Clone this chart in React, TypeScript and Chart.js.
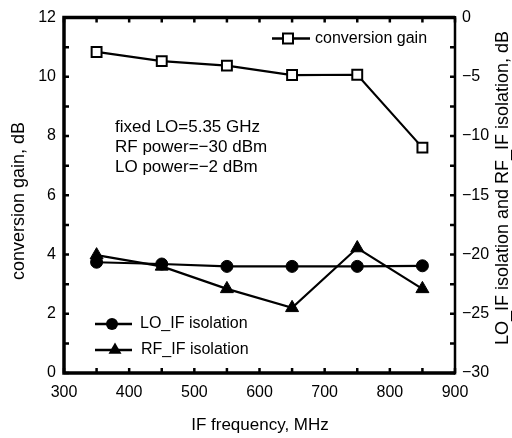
import React, { useEffect, useRef } from "react";
import { Chart, registerables } from "chart.js";

Chart.register(...registerables);

// ---- data ----
const frequencies = [350, 450, 550, 650, 750, 850];
const conversionGain = [10.84, 10.53, 10.38, 10.06, 10.07, 7.61];
const loIfIsolation = [-20.65, -20.8, -21.0, -21.0, -21.0, -20.95];
const rfIfIsolation = [-20.05, -21.0, -22.9, -24.5, -19.45, -22.9];

const xMinorTicks = [300, 350, 400, 450, 500, 550, 600, 650, 700, 750, 800, 850, 900];
const leftMinorTicks = [0, 1, 2, 3, 4, 5, 6, 7, 8, 9, 10, 11, 12];
const rightMinorTicks = [0, -2.5, -5, -7.5, -10, -12.5, -15, -17.5, -20, -22.5, -25, -27.5, -30];

const xTitle = "IF frequency, MHz";
const leftTitle = "conversion gain, dB";
const rightTitle = "LO_IF isolation and RF_IF isolation, dB";
const noteLines = ["fixed LO=5.35 GHz", "RF power=\u221230 dBm", "LO power=\u22122 dBm"];
const legendLabels = ["conversion gain", "LO_IF isolation", "RF_IF isolation"];

const FONT = '"Liberation Sans", Arial, Helvetica, sans-serif';

function drawMarker(ctx: CanvasRenderingContext2D, kind: string, x: number, y: number) {
  ctx.save();
  ctx.lineWidth = 2;
  ctx.strokeStyle = "#000";
  if (kind === "rect") {
    const s = 5;
    ctx.fillStyle = "#fff";
    ctx.beginPath();
    ctx.rect(x - s, y - s, 2 * s, 2 * s);
    ctx.fill();
    ctx.stroke();
  } else if (kind === "circle") {
    ctx.fillStyle = "#000";
    ctx.beginPath();
    ctx.arc(x, y, 6, 0, Math.PI * 2);
    ctx.fill();
  } else {
    const r = 7.5;
    ctx.fillStyle = "#000";
    ctx.beginPath();
    ctx.moveTo(x, y - r);
    ctx.lineTo(x + r * 0.866, y + r * 0.5);
    ctx.lineTo(x - r * 0.866, y + r * 0.5);
    ctx.closePath();
    ctx.fill();
  }
  ctx.restore();
}

const overlayPlugin = {
  id: "overlay",
  afterDraw(chart: any) {
    const ctx: CanvasRenderingContext2D = chart.ctx;
    const { left, right, top, bottom } = chart.chartArea;
    const sx = chart.scales.x;
    const sy = chart.scales.y;
    const sy2 = chart.scales.y2;
    ctx.save();
    ctx.strokeStyle = "#000";
    ctx.lineCap = "butt";
    // frame
    ctx.lineWidth = 3.5;
    ctx.beginPath();
    ctx.moveTo(right, top);
    ctx.lineTo(left, top);
    ctx.lineTo(left, bottom);
    ctx.lineTo(right, bottom);
    ctx.stroke();
    ctx.lineWidth = 2.5;
    ctx.beginPath();
    ctx.moveTo(right, top - 1.5);
    ctx.lineTo(right, bottom + 1.5);
    ctx.stroke();
    // inward tick marks
    ctx.lineWidth = 2.5;
    const tl = 5;
    ctx.beginPath();
    xMinorTicks.forEach((v) => {
      const px = sx.getPixelForValue(v);
      ctx.moveTo(px, top);
      ctx.lineTo(px, top + tl);
      ctx.moveTo(px, bottom);
      ctx.lineTo(px, bottom - tl);
    });
    leftMinorTicks.forEach((v) => {
      const py = sy.getPixelForValue(v);
      ctx.moveTo(left, py);
      ctx.lineTo(left + tl, py);
    });
    rightMinorTicks.forEach((v) => {
      const py = sy2.getPixelForValue(v);
      ctx.moveTo(right, py);
      ctx.lineTo(right - tl, py);
    });
    ctx.stroke();

    // titles
    ctx.fillStyle = "#000";
    ctx.textBaseline = "middle";
    ctx.textAlign = "center";
    ctx.font = `17px ${FONT}`;
    ctx.fillText(xTitle, 260, 425);
    ctx.save();
    ctx.font = `18px ${FONT}`;
    ctx.translate(19, 201);
    ctx.rotate(-Math.PI / 2);
    ctx.fillText(leftTitle, 0, 0);
    ctx.restore();
    ctx.save();
    ctx.font = `18px ${FONT}`;
    ctx.translate(503, 188);
    ctx.rotate(-Math.PI / 2);
    ctx.fillText(rightTitle, 0, 0);
    ctx.restore();

    // annotation
    ctx.textAlign = "left";
    ctx.font = `17px ${FONT}`;
    noteLines.forEach((t, i) => ctx.fillText(t, 115, 127 + i * 20));

    // legends
    const items = [
      { kind: "rect", x0: 272, x1: 310, mx: 288, y: 38.5, tx: 315, label: legendLabels[0] },
      { kind: "circle", x0: 95, x1: 132, mx: 112, y: 324, tx: 140, label: legendLabels[1] },
      { kind: "triangle", x0: 95, x1: 132, mx: 115, y: 350, tx: 141, label: legendLabels[2] },
    ];
    items.forEach((it) => {
      ctx.lineWidth = 2.5;
      ctx.beginPath();
      ctx.moveTo(it.x0, it.y);
      ctx.lineTo(it.x1, it.y);
      ctx.stroke();
      drawMarker(ctx, it.kind, it.mx, it.y);
      ctx.fillStyle = "#000";
      ctx.font = `16px ${FONT}`;
      ctx.textAlign = "left";
      ctx.textBaseline = "middle";
      ctx.fillText(it.label, it.tx, it.y);
    });
    ctx.restore();
  },
};

const whiteBg = {
  id: "whiteBg",
  beforeDraw(chart: any) {
    const ctx = chart.ctx;
    ctx.save();
    ctx.fillStyle = "#fff";
    ctx.fillRect(0, 0, chart.width, chart.height);
    ctx.restore();
  },
};

export default function App() {
  const ref = useRef<HTMLCanvasElement | null>(null);
  useEffect(() => {
    if (!ref.current) return;
    const toPts = (ys: number[]) => frequencies.map((f, i) => ({ x: f, y: ys[i] }));
    const tickFont = { family: FONT, size: 16 };
    const chart = new Chart(ref.current, {
      type: "scatter",
      data: {
        datasets: [
          {
            label: legendLabels[0],
            data: toPts(conversionGain),
            yAxisID: "y",
            showLine: true,
            borderColor: "#000",
            borderWidth: 2.2,
            pointStyle: "rect",
            pointRadius: 7,
            pointBackgroundColor: "#fff",
            pointBorderColor: "#000",
            pointBorderWidth: 2,
          },
          {
            label: legendLabels[1],
            data: toPts(loIfIsolation),
            yAxisID: "y2",
            showLine: true,
            borderColor: "#000",
            borderWidth: 2.2,
            pointStyle: "circle",
            pointRadius: 6,
            pointBackgroundColor: "#000",
            pointBorderColor: "#000",
            pointBorderWidth: 1,
          },
          {
            label: legendLabels[2],
            data: toPts(rfIfIsolation),
            yAxisID: "y2",
            showLine: true,
            borderColor: "#000",
            borderWidth: 2.2,
            pointStyle: "triangle",
            pointRadius: 7.5,
            pointBackgroundColor: "#000",
            pointBorderColor: "#000",
            pointBorderWidth: 1,
          },
        ],
      },
      options: {
        animation: false,
        responsive: false,
        devicePixelRatio: 1,
        layout: { padding: { top: 15, left: 0, right: 0, bottom: 0 } },
        plugins: { legend: { display: false }, tooltip: { enabled: false } },
        scales: {
          x: {
            type: "linear",
            min: 300,
            max: 900,
            grid: { display: false, drawTicks: false },
            border: { display: false },
            ticks: { stepSize: 100, font: tickFont, color: "#000", padding: 10, maxRotation: 0, autoSkip: false },
            afterFit: (s: any) => { s.height = 65; },
          },
          y: {
            type: "linear",
            position: "left",
            min: 0,
            max: 12,
            grid: { display: false, drawTicks: false },
            border: { display: false },
            ticks: { stepSize: 2, font: tickFont, color: "#000", padding: 8 },
            afterFit: (s: any) => { s.width = 64; },
          },
          y2: {
            type: "linear",
            position: "right",
            min: -30,
            max: 0,
            grid: { display: false, drawTicks: false },
            border: { display: false },
            ticks: {
              stepSize: 5,
              font: tickFont,
              color: "#000",
              padding: 7,
              callback: (v: any) => (Number(v) < 0 ? `\u2212${Math.abs(Number(v))}` : `${v}`),
            },
            afterFit: (s: any) => { s.width = 57; },
          },
        },
      },
      plugins: [whiteBg, overlayPlugin],
    });
    return () => chart.destroy();
  }, []);
  return (
    <div style={{ position: "absolute", left: 0, top: 0, width: 512, height: 438, background: "#fff" }}>
      <canvas ref={ref} width={512} height={438} style={{ width: 512, height: 438, display: "block" }} />
    </div>
  );
}
